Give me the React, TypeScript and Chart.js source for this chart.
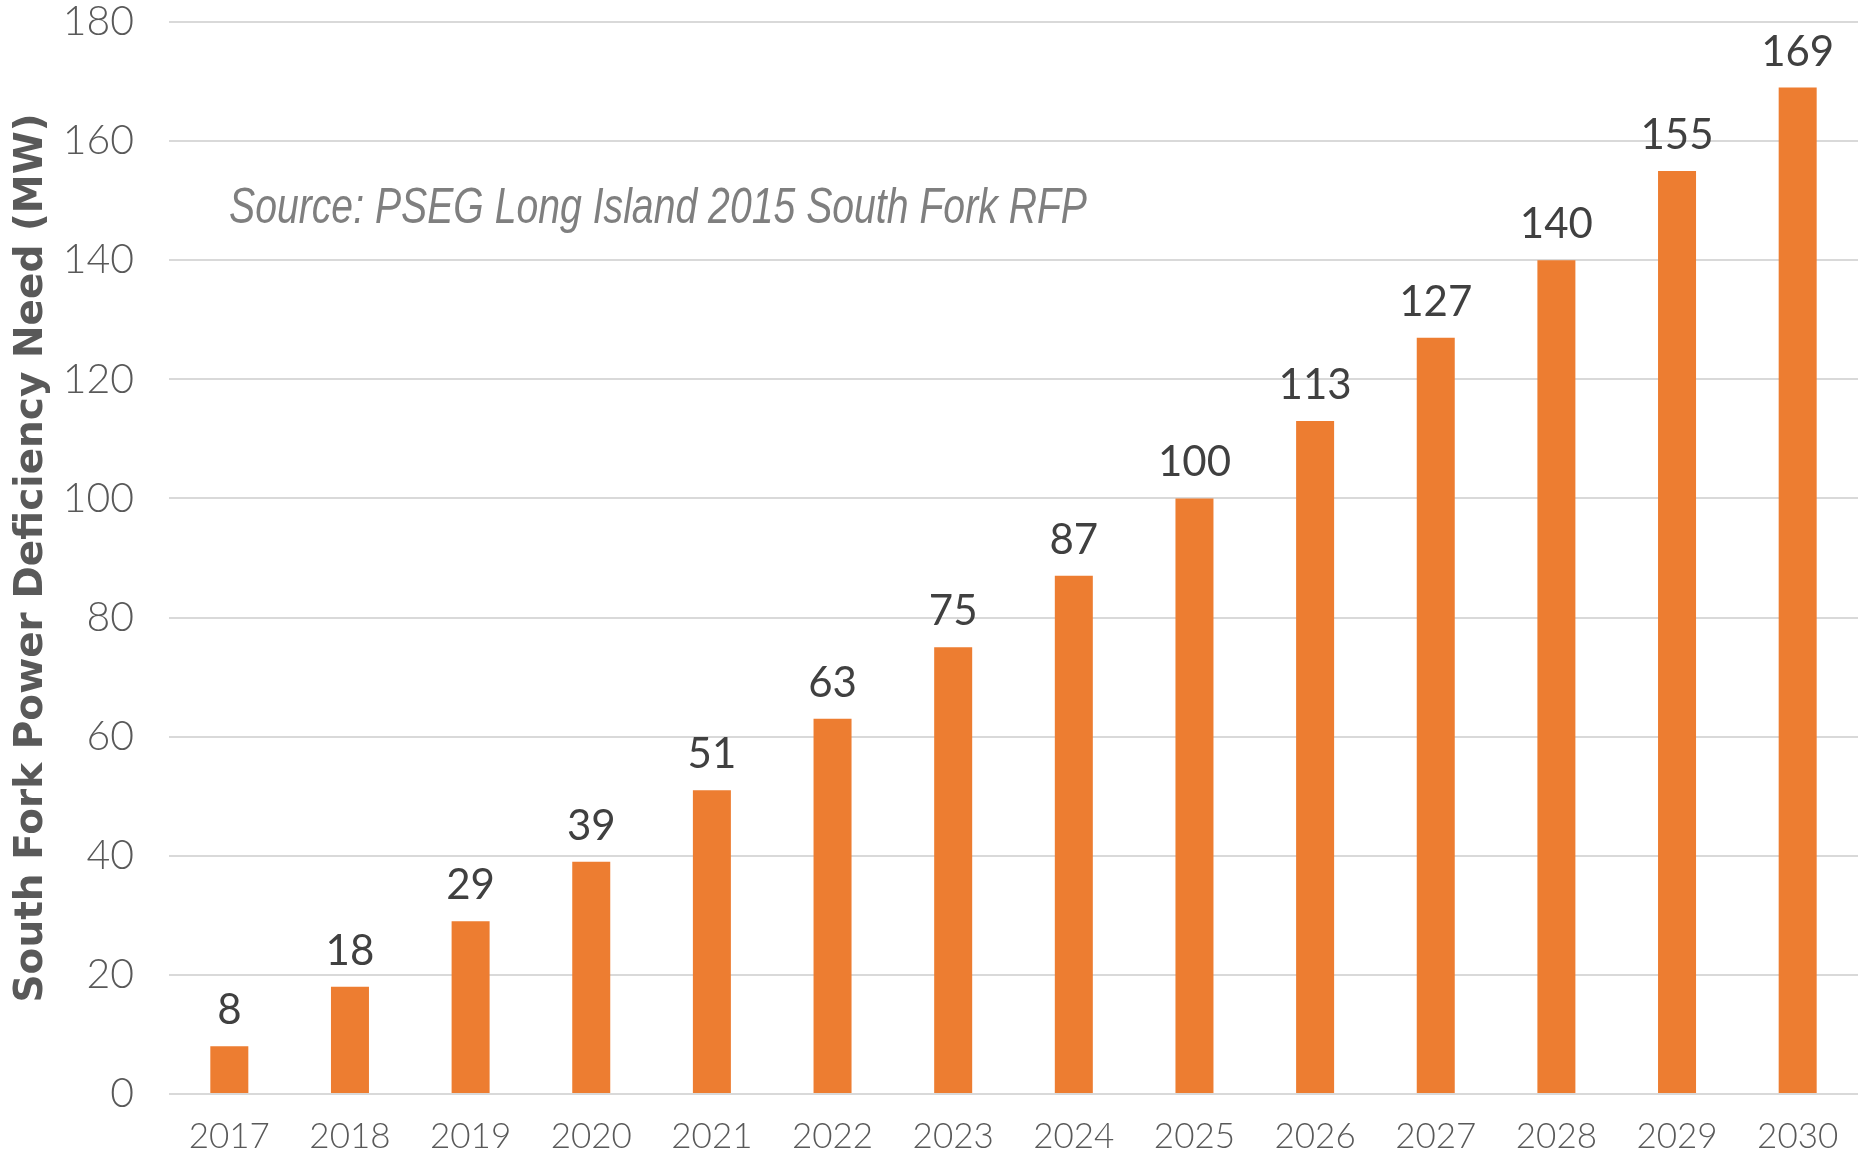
import React, { useEffect, useRef } from "react";
import { Chart, registerables } from "chart.js";

Chart.register(...registerables);

const years = ["2017", "2018", "2019", "2020", "2021", "2022", "2023", "2024", "2025", "2026", "2027", "2028", "2029", "2030"];
const need = [8, 18, 29, 39, 51, 63, 75, 87, 100, 113, 127, 140, 155, 169];
const yTitle = "South Fork Power Deficiency Need (MW)";
const sourceNote = "Source: PSEG Long Island 2015 South Fork RFP";

const W = 1859;
const H = 1149;

const dataLabelPlugin = {
  id: "dataLabels",
  afterDatasetsDraw(chart: any) {
    const ctx = chart.ctx;
    const meta = chart.getDatasetMeta(0);
    ctx.save();
    ctx.font = "400 42px Lato, 'Open Sans', sans-serif";
    ctx.fillStyle = "#404040";
    ctx.textAlign = "center";
    ctx.textBaseline = "alphabetic";
    meta.data.forEach((bar: any, i: number) => {
      ctx.fillText(String(need[i]), bar.x, bar.y - 22);
    });
    ctx.restore();
  },
};

const sourcePlugin = {
  id: "sourceNote",
  afterDraw(chart: any) {
    const ctx = chart.ctx;
    const area = chart.chartArea;
    ctx.save();
    ctx.font = "italic 50px 'Liberation Sans Narrow', 'Liberation Sans', sans-serif";
    ctx.fillStyle = "#7f7f7f";
    ctx.textBaseline = "alphabetic";
    ctx.textAlign = "left";
    const w = ctx.measureText(sourceNote).width;
    const target = 858;
    const sx = target / w;
    ctx.translate(area.left + 60, 223);
    ctx.scale(sx, 1);
    ctx.fillText(sourceNote, 0, 0);
    ctx.restore();
  },
};

export default function App() {
  const ref = useRef<HTMLCanvasElement>(null);
  useEffect(() => {
    if (!ref.current) return;
    const chart = new Chart(ref.current, {
      type: "bar",
      data: {
        labels: years,
        datasets: [
          {
            data: need,
            backgroundColor: "#ED7D31",
            borderWidth: 0,
            barPercentage: 0.63,
            categoryPercentage: 0.5,
          },
        ],
      },
      options: {
        responsive: false,
        animation: false,
        layout: { padding: { top: 22, right: 1, left: 0, bottom: 0 } },
        plugins: {
          legend: { display: false },
          tooltip: { enabled: false },
          title: { display: false },
        },
        scales: {
          x: {
            grid: { display: false },
            border: { display: false },
            ticks: {
              color: "#595959",
              font: { family: "Lato, 'Open Sans', sans-serif", size: 35, weight: "300" as any },
              padding: 14,
              maxRotation: 0,
              autoSkip: false,
            },
            afterFit(scale: any) {
              scale.height = 55;
              scale.paddingLeft = 0;
              scale.paddingRight = 0;
            },
          },
          y: {
            min: 0,
            max: 180,
            ticks: {
              stepSize: 20,
              color: "#595959",
              font: { family: "Lato, 'Open Sans', sans-serif", size: 41, weight: "300" as any, lineHeight: 1 },
              padding: 35,
            },
            grid: { color: "#d9d9d9", lineWidth: 2, drawTicks: false },
            border: { display: false },
            title: {
              display: true,
              text: yTitle,
              color: "#595959",
              font: { family: "'DejaVu Sans', sans-serif", size: 39, weight: "bold" },
              padding: { top: 8, bottom: 0 },
            },
            afterFit(scale: any) {
              scale.width = 169;
              scale.paddingTop = 0;
              scale.paddingBottom = 0;
            },
          },
        },
      },
      plugins: [dataLabelPlugin, sourcePlugin],
    });
    return () => chart.destroy();
  }, []);
  return (
    <div style={{ position: "absolute", left: 0, top: 0, width: W, height: H, background: "#fff" }}>
      <canvas ref={ref} width={W} height={H} style={{ width: W, height: H, display: "block" }} />
    </div>
  );
}
